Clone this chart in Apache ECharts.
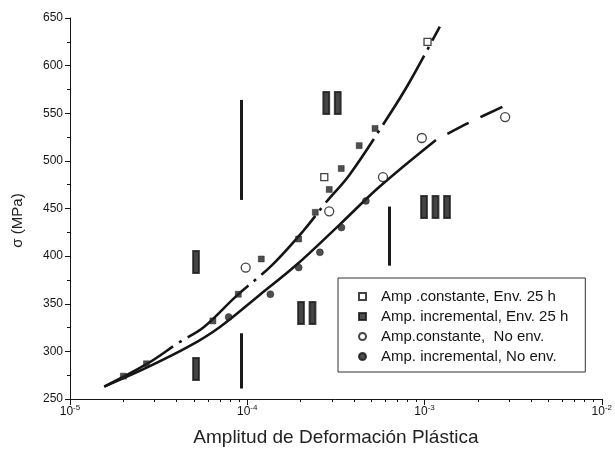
<!DOCTYPE html>
<html>
<head>
<meta charset="utf-8">
<script src="https://cdn.jsdelivr.net/npm/echarts@6/dist/echarts.min.js"></script>
<style>
html, body { margin: 0; background: #fff; }
#chart { width: 615px; height: 455px; }
</style>
</head>
<body>
<div id="chart"></div>
<script>
// measured points [strain amplitude, stress MPa]
const openSquareEnv = [[2.72e-4, 483], [1.04e-3, 625]];
const filledSquareEnv = [[2.0e-5, 274], [2.7e-5, 287], [6.4e-5, 332], [8.9e-5, 360], [1.2e-4, 397],
    [1.95e-4, 418], [2.42e-4, 446], [2.9e-4, 470], [3.39e-4, 492], [4.28e-4, 516], [5.26e-4, 534]];
const openCircleNoEnv = [[9.8e-5, 388], [2.9e-4, 447], [5.83e-4, 483], [9.66e-4, 524], [2.85e-3, 546]];
const filledCircleNoEnv = [[7.85e-5, 336], [1.35e-4, 360], [1.95e-4, 388], [2.57e-4, 404], [3.4e-4, 430], [4.67e-4, 458]];

// fitted curves
const fitEnv = [[1.56e-5, 263], [2.7e-5, 286.5], [4.14e-5, 309.6], [5.65e-5, 325],
    [8.67e-5, 358], [1.38e-4, 390.6], [2.09e-4, 427.4], [2.79e-4, 456.8],
    [3.76e-4, 485], [6.22e-4, 546], [8.19e-4, 582], [1.22e-3, 641]];
const fitNoEnv = [[1.56e-5, 263], [2.69e-5, 282.6], [4.71e-5, 305.4], [6.95e-5, 325.1], [1.17e-4, 359],
    [1.89e-4, 390.6], [3.3e-4, 432.6], [5.55e-4, 472.6], [1.16e-3, 522]];
const fitNoEnvTail = [[1.16e-3, 522], [1.76e-3, 539.6], [2.84e-3, 558]];

// region marks
const regionNames = ["I", "I", "II", "II", "III"];
const regionX = [5.17e-5, 5.17e-5, 3.03e-4, 2.18e-4, 1.16e-3];
const regionY = [390, 278, 557, 337, 448];
const boundaryX = [9.3e-5, 9.3e-5, 6.36e-4];
const boundaryFrom = [459, 261, 390];
const boundaryTo = [564, 319, 452];

const legendNames = ["Amp .constante, Env. 25 h", "Amp. incremental, Env. 25 h", "Amp.constante,  No env.", "Amp. incremental, No env."];
const minorSteps = [2, 3, 4, 5, 6, 7, 8, 9];
const decades = [1e-5, 1e-4, 1e-3];

const FONT = "Liberation Sans";
const INK = "#151515";
const minorTicks = [];
decades.forEach(d => minorSteps.forEach(m => minorTicks.push(m * d)));

const chart = echarts.init(document.getElementById("chart"));

const axisBase = {
    type: "log", logBase: 10, min: 1e-5, max: 1e-2, gridIndex: 0, position: "bottom",
    splitLine: {show: false}
};

chart.setOption({
    animation: false,
    backgroundColor: "#fff",
    grid: {left: 70, top: 18, width: 533, height: 381},
    legend: {
        data: legendNames,
        left: 338, top: 278, orient: "vertical",
        itemWidth: 7, itemHeight: 7, itemGap: 5,
        padding: [11, 17, 8, 20],
        borderColor: "#333", borderWidth: 1,
        textStyle: {fontFamily: FONT, fontSize: 15, color: INK, padding: [0, 0, 0, 10]}
    },
    xAxis: [
        Object.assign({}, axisBase, {
            name: "Amplitud de Deformación Plástica",
            nameLocation: "middle", nameGap: 29,
            nameTextStyle: {fontFamily: FONT, fontSize: 19, color: "#222"},
            axisLine: {lineStyle: {color: INK, width: 1}},
            axisTick: {length: 6, lineStyle: {color: INK}},
            axisLabel: {
                margin: 5,
                formatter: v => `{b|10}{s|${Math.round(Math.log10(v))}}`,
                rich: {
                    b: {fontFamily: FONT, fontSize: 12, color: INK},
                    s: {fontFamily: FONT, fontSize: 8, color: INK, padding: [0, 0, 8, 0]}
                }
            }
        }),
        Object.assign({}, axisBase, {
            axisLine: {show: false},
            axisTick: {length: 3, customValues: minorTicks, lineStyle: {color: INK}},
            axisLabel: {show: false}
        })
    ],
    yAxis: {
        type: "value", min: 250, max: 650, interval: 50,
        name: "σ (MPa)", nameLocation: "middle", nameGap: 45,
        nameTextStyle: {fontFamily: FONT, fontSize: 15, color: "#222", padding: [0, 24, 0, 0]},
        axisLine: {show: true, lineStyle: {color: INK, width: 1}},
        axisTick: {length: 5, lineStyle: {color: INK}},
        minorTick: {show: true, splitNumber: 2, length: 3, lineStyle: {color: INK}},
        splitLine: {show: false},
        axisLabel: {fontFamily: FONT, fontSize: 12, color: INK, margin: 7}
    },
    series: [
        {
            type: "line", data: fitEnv, showSymbol: false, silent: true, smooth: 0.35, z: 2,
            lineStyle: {color: INK, width: 2.6, type: [80, 7, 3, 7], cap: "butt"}
        },
        {
            type: "line", data: fitNoEnv, showSymbol: false, silent: true, smooth: 0.35, z: 2,
            lineStyle: {color: INK, width: 2.6}
        },
        {
            type: "line", data: fitNoEnvTail, showSymbol: false, silent: true, smooth: 0.3, z: 2,
            lineStyle: {color: INK, width: 2.6, type: [24, 13], dashOffset: 24, cap: "butt"}
        },
        {
            name: legendNames[0], type: "scatter", data: openSquareEnv, symbol: "rect", symbolSize: 7, z: 5,
            itemStyle: {color: "#fff", borderColor: INK, borderWidth: 1.3}
        },
        {
            name: legendNames[1], type: "scatter", data: filledSquareEnv, symbol: "rect", symbolSize: 6, z: 5,
            itemStyle: {color: "#222", borderColor: INK, borderWidth: 0.5}
        },
        {
            name: legendNames[2], type: "scatter", data: openCircleNoEnv, symbol: "circle", symbolSize: 9, z: 5,
            itemStyle: {color: "#fff", borderColor: INK, borderWidth: 1.3}
        },
        {
            name: legendNames[3], type: "scatter", data: filledCircleNoEnv, symbol: "circle", symbolSize: 7, z: 5,
            itemStyle: {color: "#222", borderColor: INK, borderWidth: 0.5}
        },
        {
            type: "scatter", silent: true, symbolSize: 1, z: 3,
            itemStyle: {color: "rgba(0,0,0,0)"},
            data: regionNames.map((n, i) => [regionX[i], regionY[i], n]),
            label: {
                show: true, position: [0, 0], align: "center", verticalAlign: "middle",
                formatter: p => p.value[2],
                fontFamily: "DejaVu Sans", fontWeight: "bold", fontSize: 31,
                color: "#161616", textBorderColor: "#161616", textBorderWidth: 2
            },
            markLine: {
                silent: true, symbol: "none", animation: false,
                label: {show: false},
                lineStyle: {color: "#1a1a1a", width: 3, type: "solid"},
                data: boundaryX.map((x, i) => [{coord: [x, boundaryFrom[i]]}, {coord: [x, boundaryTo[i]]}])
            }
        }
    ]
});
</script>
</body>
</html>
